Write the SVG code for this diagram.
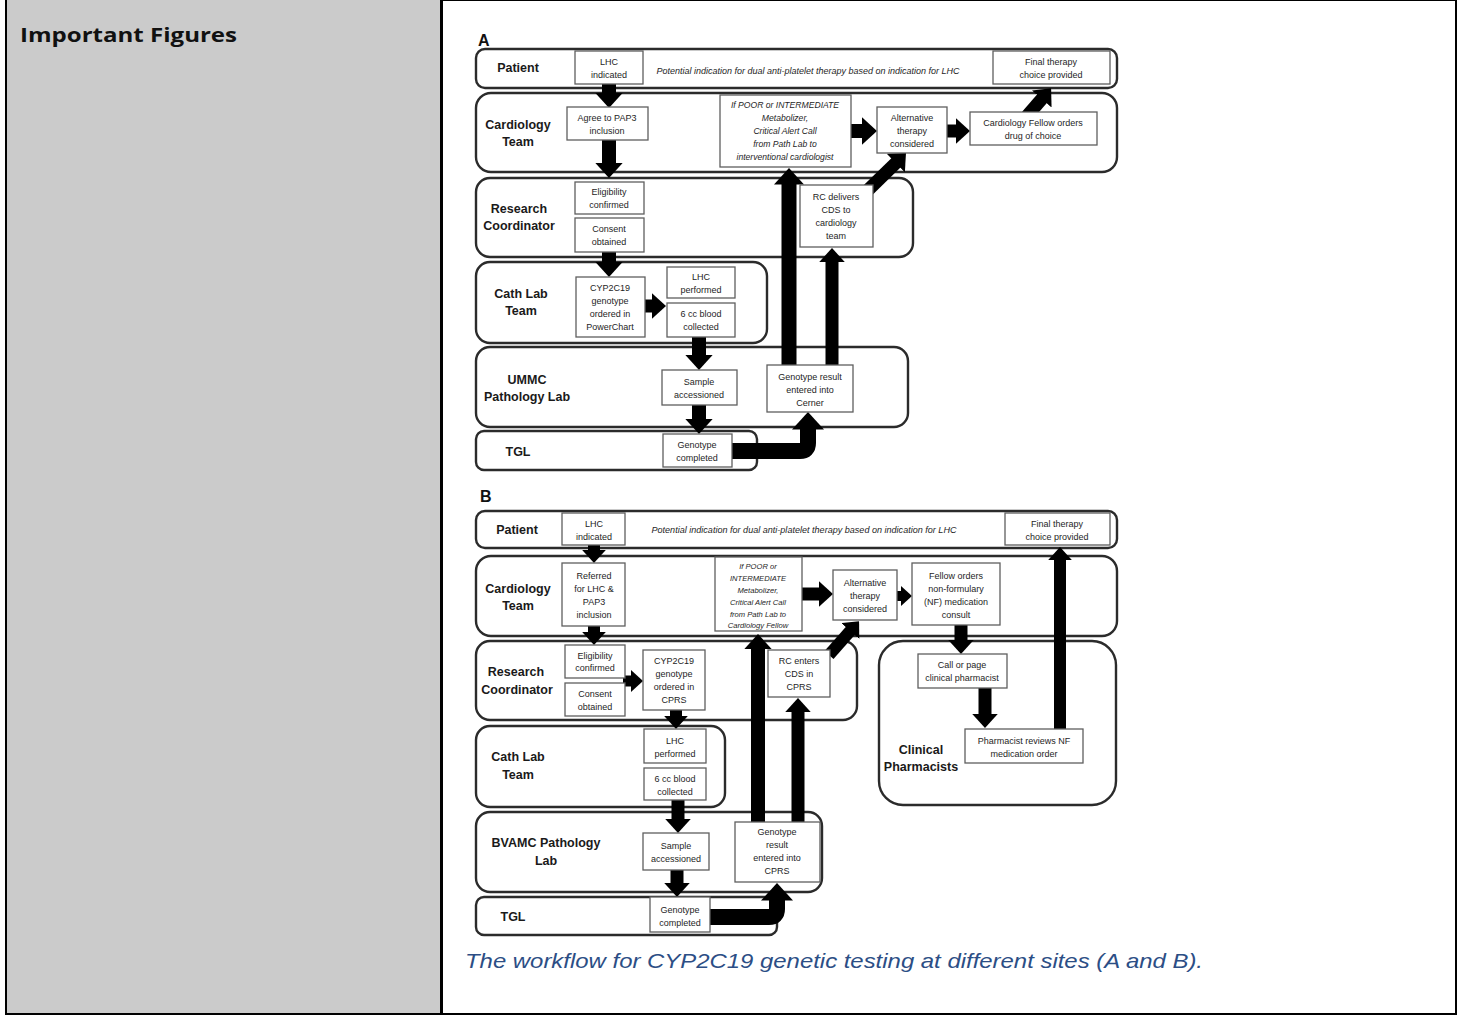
<svg xmlns="http://www.w3.org/2000/svg" width="1461" height="1015" viewBox="0 0 1461 1015">
  <defs>
    <marker id="head" viewBox="0 0 11 20" refX="1" refY="10" markerWidth="1.1" markerHeight="2" markerUnits="strokeWidth" orient="auto">
      <path d="M0,0 L11,10 L0,20 z" fill="#000"/>
    </marker>
  </defs>
  <style>
    .lane { fill: #fff; stroke: #2b2b2b; stroke-width: 2.4; }
    .box { fill: #fff; stroke: #5f5f5f; stroke-width: 1.3; }
    .t { font-family: "Liberation Sans", Arial, sans-serif; font-size: 9px; fill: #1e1e1e; text-anchor: middle; }
    .ti { font-family: "Liberation Sans", Arial, sans-serif; font-size: 8.6px; font-style: italic; fill: #1e1e1e; text-anchor: middle; }
    .tis { font-size: 7.6px; }
    .lbl { font-family: "Liberation Sans", Arial, sans-serif; font-size: 12.5px; font-weight: bold; fill: #1a1a1a; text-anchor: middle; }
    .arr { fill: none; stroke: #000; marker-end: url(#head); }
  </style>

  <!-- table frame -->
  <rect x="0" y="0" width="1461" height="1015" fill="#fff"/>
  <rect x="7" y="0" width="434" height="1015" fill="#cbcbcb"/>
  <line x1="6" y1="0" x2="6" y2="1015" stroke="#000" stroke-width="2"/>
  <line x1="441.5" y1="0" x2="441.5" y2="1015" stroke="#000" stroke-width="3"/>
  <line x1="1456" y1="0" x2="1456" y2="1015" stroke="#000" stroke-width="2"/>
  <line x1="441" y1="0.5" x2="1457" y2="0.5" stroke="#000" stroke-width="1"/>
  <line x1="5" y1="1014" x2="1457" y2="1014" stroke="#000" stroke-width="2"/>
  <text x="20" y="42" font-family="'Open Sans', 'Liberation Sans', sans-serif" font-size="20" font-weight="bold" fill="#111" textLength="217" lengthAdjust="spacingAndGlyphs">Important Figures</text>

  <g id="figure">
    <text x="478" y="46" font-family="'Liberation Sans', Arial, sans-serif" font-size="16" font-weight="bold" fill="#111">A</text>
    <text x="480" y="502" font-family="'Liberation Sans', Arial, sans-serif" font-size="16" font-weight="bold" fill="#111">B</text>

    <!-- swimlanes, panel A -->
    <g id="a-lane-patient"><rect class="lane" x="476" y="49" width="641" height="39" rx="9"/><text class="lbl" x="518" y="72">Patient</text></g>
    <g id="a-lane-cardiology"><rect class="lane" x="476" y="93" width="641" height="79" rx="15"/><text class="lbl" x="518" y="129">Cardiology</text><text class="lbl" x="518" y="146">Team</text></g>
    <g id="a-lane-research"><rect class="lane" x="476" y="178" width="437" height="79" rx="14"/><text class="lbl" x="519" y="213">Research</text><text class="lbl" x="519" y="230">Coordinator</text></g>
    <g id="a-lane-cathlab"><rect class="lane" x="476" y="262" width="291" height="81" rx="14"/><text class="lbl" x="521" y="298">Cath Lab</text><text class="lbl" x="521" y="315">Team</text></g>
    <g id="a-lane-pathology"><rect class="lane" x="476" y="347" width="432" height="80" rx="14"/><text class="lbl" x="527" y="384">UMMC</text><text class="lbl" x="527" y="401">Pathology Lab</text></g>
    <g id="a-lane-tgl"><rect class="lane" x="476" y="431" width="281" height="39" rx="8"/><text class="lbl" x="518" y="456">TGL</text></g>

    <!-- swimlanes, panel B -->
    <g id="b-lane-patient"><rect class="lane" x="476" y="511" width="641" height="37" rx="9"/><text class="lbl" x="517" y="534">Patient</text></g>
    <g id="b-lane-cardiology"><rect class="lane" x="476" y="556" width="641" height="80" rx="15"/><text class="lbl" x="518" y="593">Cardiology</text><text class="lbl" x="518" y="610">Team</text></g>
    <g id="b-lane-research"><rect class="lane" x="476" y="641" width="381" height="79" rx="14"/><text class="lbl" x="516" y="676">Research</text><text class="lbl" x="517" y="694">Coordinator</text></g>
    <g id="b-lane-cathlab"><rect class="lane" x="476" y="726" width="249" height="81" rx="14"/><text class="lbl" x="518" y="761">Cath Lab</text><text class="lbl" x="518" y="779">Team</text></g>
    <g id="b-lane-pathology"><rect class="lane" x="476" y="812" width="346" height="80" rx="14"/><text class="lbl" x="546" y="847">BVAMC Pathology</text><text class="lbl" x="546" y="865">Lab</text></g>
    <g id="b-lane-tgl"><rect class="lane" x="476" y="897" width="301" height="38" rx="8"/><text class="lbl" x="513" y="921">TGL</text></g>
    <g id="b-lane-pharmacists"><rect class="lane" x="879" y="641" width="237" height="164" rx="24"/><text class="lbl" x="921" y="754">Clinical</text><text class="lbl" x="921" y="771">Pharmacists</text></g>

    <!-- patient lane notes -->
    <text class="ti" x="808" y="74" textLength="303" lengthAdjust="spacingAndGlyphs">Potential indication for dual anti-platelet therapy based on indication for LHC</text>
    <text class="ti" x="804" y="533" textLength="305" lengthAdjust="spacingAndGlyphs">Potential indication for dual anti-platelet therapy based on indication for LHC</text>

    <!-- connectors -->
    <g id="connectors">
      <path class="arr" stroke-width="14" d="M609,84 V94"/>
      <path class="arr" stroke-width="14" d="M609,138 V164"/>
      <path class="arr" stroke-width="14" d="M609,250 V263"/>
      <path class="arr" stroke-width="13" d="M643,306 H653"/>
      <path class="arr" stroke-width="14" d="M699,335 V356"/>
      <path class="arr" stroke-width="14" d="M699,403 V420"/>
      <path class="arr" stroke-width="14" d="M850,131 H863"/>
      <path class="arr" stroke-width="13" d="M945,131 H957"/>
      <path class="arr" stroke-width="13" d="M1027,116 L1042.6,98"/>
      <path class="arr" stroke-width="13" d="M864,194 L896.7,162.1"/>
      <path class="arr" stroke-width="15" d="M789,368 V183"/>
      <path class="arr" stroke-width="13" d="M832,368 V261"/>
      <path class="arr" stroke-width="16" stroke-linejoin="round" d="M730,451 H800 Q808,451 808,443 V428"/>

      <path class="arr" stroke-width="12" d="M594,543 V551"/>
      <path class="arr" stroke-width="12" d="M594,624 V633"/>
      <path class="arr" stroke-width="11" d="M623,681 H632"/>
      <path class="arr" stroke-width="12" d="M676,708 V717"/>
      <path class="arr" stroke-width="13" d="M678,798 V820"/>
      <path class="arr" stroke-width="13" d="M677,868 V884"/>
      <path class="arr" stroke-width="13" d="M800,594 H820"/>
      <path class="arr" stroke-width="10" d="M895,596 H902"/>
      <path class="arr" stroke-width="13" d="M961,623 V641"/>
      <path class="arr" stroke-width="13" d="M985,686 V715"/>
      <path class="arr" stroke-width="12" d="M1060,731 V559"/>
      <path class="arr" stroke-width="14" d="M758,824 V648"/>
      <path class="arr" stroke-width="13" d="M798,824 V711"/>
      <path class="arr" stroke-width="12" d="M829,655 L851.1,630.1"/>
      <path class="arr" stroke-width="16" stroke-linejoin="round" d="M708,917 H769 Q777,917 777,909 V899"/>
    </g>

    <!-- process boxes, panel A -->
    <g id="a-lhc-indicated"><rect class="box" x="575" y="51" width="68" height="33"/><text class="t" x="609" y="65">LHC</text><text class="t" x="609" y="78">indicated</text></g>
    <g id="a-final-therapy"><rect class="box" x="993" y="51" width="117" height="33"/><text class="t" x="1051" y="65">Final therapy</text><text class="t" x="1051" y="78">choice provided</text></g>
    <g id="a-agree-pap3"><rect class="box" x="567" y="107" width="81" height="33"/><text class="t" x="607" y="121">Agree to PAP3</text><text class="t" x="607" y="134">inclusion</text></g>
    <g id="a-alert-call"><rect class="box" x="720" y="95" width="131" height="72"/>
      <text class="ti" x="785" y="108">If POOR or INTERMEDIATE</text><text class="ti" x="785" y="121">Metabolizer,</text><text class="ti" x="785" y="134">Critical Alert Call</text><text class="ti" x="785" y="147">from Path Lab to</text><text class="ti" x="785" y="160">interventional cardiologist</text></g>
    <g id="a-alt-therapy"><rect class="box" x="877" y="107" width="70" height="46"/><text class="t" x="912" y="121">Alternative</text><text class="t" x="912" y="134">therapy</text><text class="t" x="912" y="147">considered</text></g>
    <g id="a-fellow-orders"><rect class="box" x="970" y="112" width="127" height="33"/><text class="t" x="1033" y="126">Cardiology Fellow orders</text><text class="t" x="1033" y="139">drug of choice</text></g>
    <g id="a-eligibility"><rect class="box" x="575" y="182" width="69" height="32"/><text class="t" x="609" y="195">Eligibility</text><text class="t" x="609" y="208">confirmed</text></g>
    <g id="a-consent"><rect class="box" x="575" y="218" width="69" height="34"/><text class="t" x="609" y="232">Consent</text><text class="t" x="609" y="245">obtained</text></g>
    <g id="a-cyp-ordered"><rect class="box" x="576" y="277" width="69" height="60"/><text class="t" x="610" y="291">CYP2C19</text><text class="t" x="610" y="304">genotype</text><text class="t" x="610" y="317">ordered in</text><text class="t" x="610" y="330">PowerChart</text></g>
    <g id="a-lhc-performed"><rect class="box" x="667" y="267" width="68" height="31"/><text class="t" x="701" y="280">LHC</text><text class="t" x="701" y="293">performed</text></g>
    <g id="a-blood"><rect class="box" x="667" y="303" width="68" height="34"/><text class="t" x="701" y="317">6 cc blood</text><text class="t" x="701" y="330">collected</text></g>
    <g id="a-rc-delivers"><rect class="box" x="800" y="185" width="73" height="62"/><text class="t" x="836" y="200">RC delivers</text><text class="t" x="836" y="213">CDS to</text><text class="t" x="836" y="226">cardiology</text><text class="t" x="836" y="239">team</text></g>
    <g id="a-sample"><rect class="box" x="662" y="370" width="75" height="35"/><text class="t" x="699" y="385">Sample</text><text class="t" x="699" y="398">accessioned</text></g>
    <g id="a-result-entered"><rect class="box" x="767" y="365" width="86" height="47"/><text class="t" x="810" y="380">Genotype result</text><text class="t" x="810" y="393">entered into</text><text class="t" x="810" y="406">Cerner</text></g>
    <g id="a-genotype-completed"><rect class="box" x="663" y="434" width="69" height="33"/><text class="t" x="697" y="448">Genotype</text><text class="t" x="697" y="461">completed</text></g>

    <!-- process boxes, panel B -->
    <g id="b-lhc-indicated"><rect class="box" x="562" y="513" width="63" height="32"/><text class="t" x="594" y="527">LHC</text><text class="t" x="594" y="540">indicated</text></g>
    <g id="b-final-therapy"><rect class="box" x="1005" y="513" width="105" height="32"/><text class="t" x="1057" y="527">Final therapy</text><text class="t" x="1057" y="540">choice provided</text></g>
    <g id="b-referred"><rect class="box" x="562" y="563" width="63" height="63"/><text class="t" x="594" y="579">Referred</text><text class="t" x="594" y="592">for LHC &amp;</text><text class="t" x="594" y="605">PAP3</text><text class="t" x="594" y="618">inclusion</text></g>
    <g id="b-alert-call"><rect class="box" x="715" y="557" width="87" height="74"/>
      <text class="ti tis" x="758" y="569">If POOR or</text><text class="ti tis" x="758" y="581">INTERMEDIATE</text><text class="ti tis" x="758" y="593">Metabolizer,</text><text class="ti tis" x="758" y="605">Critical Alert Call</text><text class="ti tis" x="758" y="617">from Path Lab to</text><text class="ti tis" x="758" y="628">Cardiology Fellow</text></g>
    <g id="b-alt-therapy"><rect class="box" x="833" y="570" width="64" height="50"/><text class="t" x="865" y="586">Alternative</text><text class="t" x="865" y="599">therapy</text><text class="t" x="865" y="612">considered</text></g>
    <g id="b-nf-consult"><rect class="box" x="912" y="563" width="88" height="62"/><text class="t" x="956" y="579">Fellow orders</text><text class="t" x="956" y="592">non-formulary</text><text class="t" x="956" y="605">(NF) medication</text><text class="t" x="956" y="618">consult</text></g>
    <g id="b-eligibility"><rect class="box" x="565" y="645" width="60" height="33"/><text class="t" x="595" y="659">Eligibility</text><text class="t" x="595" y="671">confirmed</text></g>
    <g id="b-consent"><rect class="box" x="565" y="683" width="60" height="33"/><text class="t" x="595" y="697">Consent</text><text class="t" x="595" y="710">obtained</text></g>
    <g id="b-cyp-ordered"><rect class="box" x="643" y="650" width="62" height="60"/><text class="t" x="674" y="664">CYP2C19</text><text class="t" x="674" y="677">genotype</text><text class="t" x="674" y="690">ordered in</text><text class="t" x="674" y="703">CPRS</text></g>
    <g id="b-rc-enters"><rect class="box" x="768" y="650" width="62" height="47"/><text class="t" x="799" y="664">RC enters</text><text class="t" x="799" y="677">CDS in</text><text class="t" x="799" y="690">CPRS</text></g>
    <g id="b-lhc-performed"><rect class="box" x="644" y="729" width="62" height="34"/><text class="t" x="675" y="744">LHC</text><text class="t" x="675" y="757">performed</text></g>
    <g id="b-blood"><rect class="box" x="644" y="768" width="62" height="32"/><text class="t" x="675" y="782">6 cc blood</text><text class="t" x="675" y="795">collected</text></g>
    <g id="b-sample"><rect class="box" x="643" y="833" width="66" height="37"/><text class="t" x="676" y="849">Sample</text><text class="t" x="676" y="862">accessioned</text></g>
    <g id="b-result-entered"><rect class="box" x="735" y="822" width="85" height="60"/><text class="t" x="777" y="835">Genotype</text><text class="t" x="777" y="848">result</text><text class="t" x="777" y="861">entered into</text><text class="t" x="777" y="874">CPRS</text></g>
    <g id="b-genotype-completed"><rect class="box" x="650" y="897" width="60" height="35"/><text class="t" x="680" y="913">Genotype</text><text class="t" x="680" y="926">completed</text></g>
    <g id="b-call-pharmacist"><rect class="box" x="918" y="654" width="89" height="34"/><text class="t" x="962" y="668">Call or page</text><text class="t" x="962" y="681">clinical pharmacist</text></g>
    <g id="b-pharmacist-reviews"><rect class="box" x="965" y="729" width="118" height="34"/><text class="t" x="1024" y="744">Pharmacist reviews NF</text><text class="t" x="1024" y="757">medication order</text></g>
  </g>

  <text x="465" y="968" font-family="'Liberation Sans', Arial, sans-serif" font-size="21" font-style="italic" fill="#2c4e85" textLength="738" lengthAdjust="spacingAndGlyphs">The workflow for CYP2C19 genetic testing at different sites (A and B).</text>
</svg>
